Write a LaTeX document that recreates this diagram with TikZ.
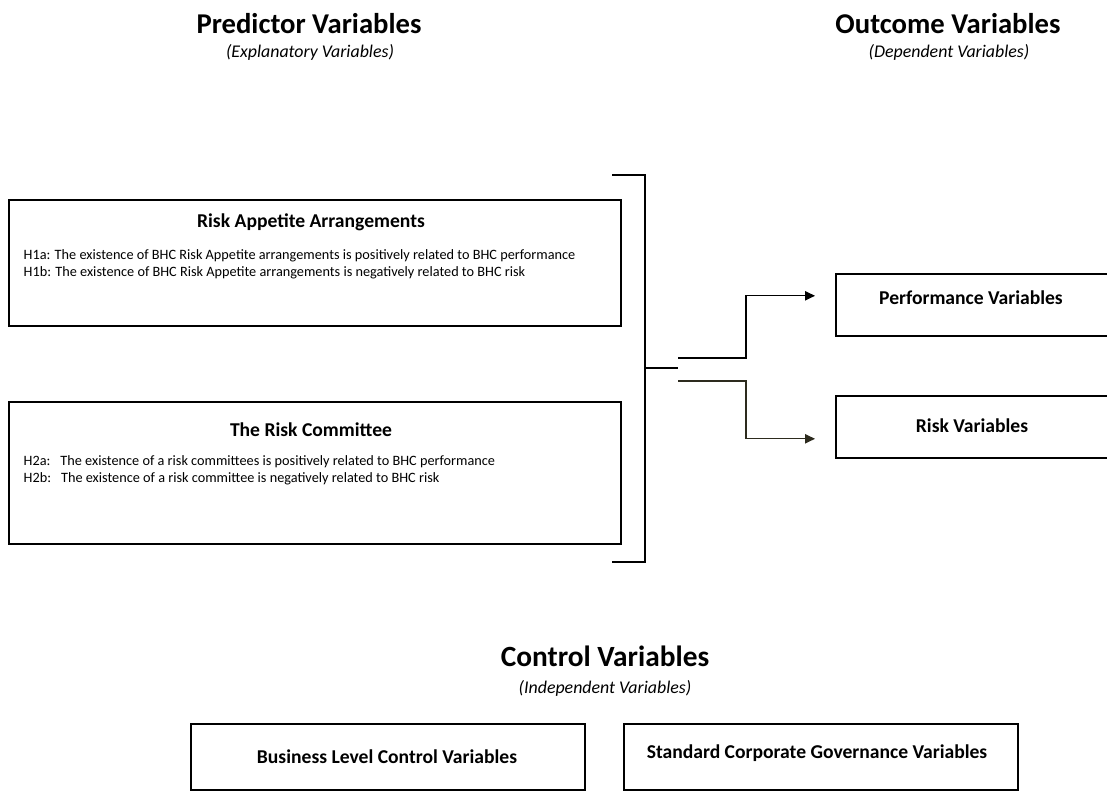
\documentclass[tikz,border=0pt]{standalone}
\usepackage{fontspec}
\setmainfont{Carlito}
\usetikzlibrary{arrows.meta,shadows}

\definecolor{olivedark}{RGB}{45,43,30}

\begin{document}
\begin{tikzpicture}[x = 0.75pt, y = -0.75pt, line width = 1pt,
		box/.style = {draw, fill = white, line width = 1.2pt, inner sep = 0pt, anchor = north west,
			drop shadow = {shadow xshift = 0.8pt, shadow yshift = -1.2pt, opacity = 0.35}},
		heading/.style = {font = \bfseries\fontsize{21.5}{24}\selectfont},
		bigheading/.style = {font = \bfseries\fontsize{22}{24}\selectfont},
		subhead/.style = {font = \itshape\fontsize{13.4}{16}\selectfont},
		boxtitle/.style = {font = \bfseries\fontsize{14.7}{17}\selectfont},
		hyp/.style = {font = \fontsize{10.7}{12.6}\selectfont, align = left, anchor = west, inner sep = 0pt},
		flow/.style = {-{Triangle[length = 7.5pt, width = 7pt]}, shorten > = 15pt}]

		\useasboundingbox (0,0) rectangle (1107,790);
		\clip (0,0) rectangle (1107,790);

		% column headings
		\node [heading] (predhead) at (309,24) {Predictor Variables};
		\node [subhead] (predsub) at (310,52) {(Explanatory Variables)};
		\node [heading] (outhead) at (948,24) {Outcome Variables};
		\node [subhead] (outsub) at (949,52) {(Dependent Variables)};

		% predictor boxes
		\node [box, minimum width = 459pt, minimum height = 94.5pt] (appetite) at (8,199) {};
		\node [boxtitle] (appetitetitle) at (311,222) {Risk Appetite Arrangements};
		\node [hyp] (appetitehyp) at (23,264) {H1a: The existence of BHC Risk Appetite arrangements is positively related to BHC performance\\
			H1b: The existence of BHC Risk Appetite arrangements is negatively related to BHC risk};

		\node [box, minimum width = 459pt, minimum height = 106.5pt] (committee) at (8,401) {};
		\node [boxtitle] (committeetitle) at (311,430) {The Risk Committee};
		\node [hyp] (committeehyp) at (23,470) {H2a:\hspace{0.7em}The existence of a risk committees is positively related to BHC performance\\
			H2b:\hspace{0.7em}The existence of a risk committee is negatively related to BHC risk};

		% bracket
		\coordinate (brtop) at (612,175);
		\coordinate (brbot) at (612,562);
		\coordinate (brmid) at (645,368);
		\coordinate (forkup) at (678,358);
		\coordinate (forkdown) at (678,381);
		\draw (brtop) -| (brmid) |- (brbot);
		\draw (brmid) -- ++(33,0);

		% outcome boxes
		\node [box, minimum width = 213.75pt, minimum height = 46.5pt] (perf) at (835,273) {};
		\node [boxtitle] (perftitle) at (971,298) {Performance Variables};
		\node [box, minimum width = 213.75pt, minimum height = 46.5pt] (risk) at (835,395) {};
		\node [boxtitle] (risktitle) at (972,426) {Risk Variables};

		\draw [flow] (forkup) -- ++(68,0) |- ([yshift = 6.75pt]perf.west);
		\draw [flow, olivedark] (forkdown) -- ++(68,0) |- ([yshift = -9pt]risk.west);

		% control variables
		\node [bigheading] (ctrlhead) at (605,656) {Control Variables};
		\node [subhead] (ctrlsub) at (605,688) {(Independent Variables)};
		\node [box, minimum width = 295.5pt, minimum height = 49.5pt] (business) at (190,723) {};
		\node [boxtitle] (businesstitle) at (387,757) {Business Level Control Variables};
		\node [box, minimum width = 295.5pt, minimum height = 49.5pt] (standard) at (623,723) {};
		\node [boxtitle] (standardtitle) at (817,753) {Standard Corporate Governance Variables};

\end{tikzpicture}
\end{document}
